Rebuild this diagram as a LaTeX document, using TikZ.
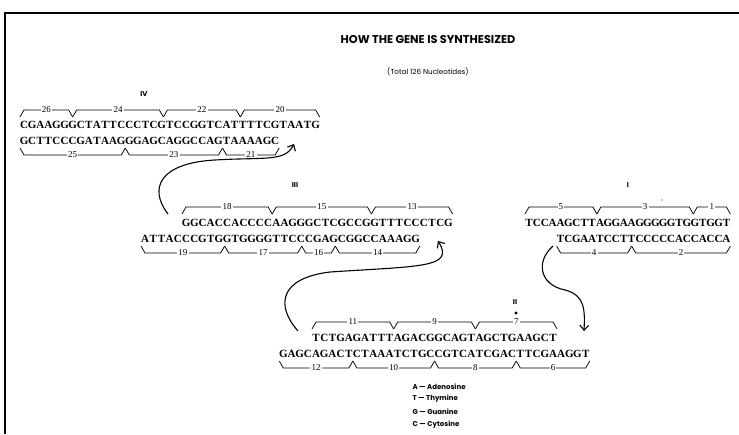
\documentclass[tikz,border=0pt]{standalone}
\usepackage{fontspec}
\setmainfont{Liberation Serif}
\newfontfamily\popfont{Poppins}
\usetikzlibrary{arrows.meta}

% one nucleotide strand: name, x of left edge, baseline y, pitch, sequence
\newcommand\dnastrand[5]{%
  \def\dnaname{#1}\def\dnay{#3}\def\dnapitch{#4}%
  \pgfmathsetmacro\dnax{#2+#4/2}\def\dnai{0}%
  \dnaloop#5\relax}
\def\dnaloop#1{\ifx#1\relax\else
  \pgfmathtruncatemacro\dnai{\dnai+1}%
  \node[nt] (\dnaname-\dnai) at (\dnax,\dnay) {#1};%
  \pgfmathsetmacro\dnax{\dnax+\dnapitch}%
  \expandafter\dnaloop\fi}
% brackets: x0, pitch, k1, k2, y of line, label
\newcommand\topbr[6]{%
  \pgfmathsetmacro\bxa{#1+#2*#3}\pgfmathsetmacro\bxb{#1+#2*#4}%
  \draw[brk] (\bxa,#5+7) -- (\bxa+4,#5) -- (\bxb-4,#5) -- (\bxb,#5+7);
  \node[lab] (n#6) at ({(\bxa+\bxb)/2},#5) {#6};}
\newcommand\botbr[6]{%
  \pgfmathsetmacro\bxa{#1+#2*#3}\pgfmathsetmacro\bxb{#1+#2*#4}%
  \draw[brk] (\bxa,#5-7) -- (\bxa+4,#5) -- (\bxb-4,#5) -- (\bxb,#5-7);
  \node[lab] (n#6) at ({(\bxa+\bxb)/2},#5) {#6};}

\begin{document}
\begin{tikzpicture}[x=1pt,y=-1pt,
  nt/.style={inner sep=0pt,anchor=base,font=\bfseries\fontsize{11}{12}\selectfont},
  lab/.style={fill=white,inner sep=1.2pt,font=\fontsize{9}{9}\selectfont},
  brk/.style={line width=0.75pt},
  conn/.style={line width=1.1pt,-{Straight Barb[length=5pt,width=9pt]}},
  sec/.style={font=\popfont\bfseries\fontsize{7}{7}\selectfont},
  leg/.style={anchor=west,font=\popfont\bfseries\fontsize{7}{7}\selectfont}]
\useasboundingbox (0,0) rectangle (739,434);
\fill[white] (0,0) rectangle (739,434);
% frame
\draw[line width=2.5pt] (5,434) -- (5,13) -- (739,13);

% titles
\node[font=\popfont\bfseries\fontsize{11.3}{12}\selectfont] (title) at (428,40) {HOW THE GENE IS SYNTHESIZED};
\node[font=\popfont\fontsize{7.2}{8}\selectfont] (subtitle) at (428,72) {(Total 126 Nucleotides)};

% ---- IV ----
\node[sec] (lIV) at (144,94) {IV};
\dnastrand{IVt}{20}{128}{8.1}{CGAAGGGCTATTCCCTCGTCCGGTCATTTTCGTAATG}
\dnastrand{IVb}{20}{144}{8.1}{GCTTCCCGATAAGGGAGCAGGCCAGTAAAAGC}
\topbr{20}{8.1}{0}{6.5}{110}{26}
\topbr{20}{8.1}{6.5}{17.7}{110}{24}
\topbr{20}{8.1}{17.7}{27.2}{110}{22}
\topbr{20}{8.1}{27.2}{37}{110}{20}
\botbr{20}{8.1}{0}{13}{155}{25}
\botbr{20}{8.1}{13}{25}{155}{23}
\botbr{20}{8.1}{25}{32}{155}{21}

% ---- III ----
\node[sec] (lIII) at (295,185) {III};
\dnastrand{IIIt}{182}{226}{8.2}{GGCACCACCCCAAGGGCTCGCCGGTTTCCCTCG}
\dnastrand{IIIb}{141}{242}{8.2}{ATTACCCGTGGTGGGGTTCCCGAGCGGCCAAAGG}
\topbr{182}{8.2}{0}{11}{207}{18}
\topbr{182}{8.2}{11}{23.1}{207}{15}
\topbr{182}{8.2}{23.1}{33}{207}{13}
\botbr{141}{8.2}{0}{10.2}{253}{19}
\botbr{141}{8.2}{10.2}{19.6}{253}{17}
\botbr{141}{8.2}{19.6}{23.7}{253}{16}
\botbr{141}{8.2}{23.7}{34}{253}{14}

% ---- I ----
\node[sec] (lI) at (628,185) {I};
\dnastrand{It}{525}{226}{7.9}{TCCAAGCTTAGGAAGGGGGTGGTGGT}
\dnastrand{Ib}{556.6}{242}{7.9}{TCGAATCCTTCCCCCACCACCA}
\topbr{525}{7.9}{0}{9.1}{207}{5}
\topbr{525}{7.9}{9.1}{21.3}{207}{3}
\topbr{525}{7.9}{21.3}{26}{207}{1}
\botbr{556.6}{7.9}{0}{9.5}{253}{4}
\botbr{556.6}{7.9}{9.5}{22}{253}{2}
\fill (662,200) circle (0.7pt);

% ---- II ----
\node[sec] (lII) at (515,302) {II};
\fill (516,313) circle (1.6pt);
\dnastrand{IIt}{312}{341}{8.17}{TCTGAGATTTAGACGGCAGTAGCTGAAGCT}
\dnastrand{IIb}{279.3}{357}{8.17}{GAGCAGACTCTAAATCTGCCGTCATCGACTTCGAAGGT}
\topbr{312}{8.17}{0}{10}{322}{11}
\topbr{312}{8.17}{10}{20}{322}{9}
\topbr{312}{8.17}{20}{30}{322}{7}
\botbr{279.3}{8.17}{0}{9}{368}{12}
\botbr{279.3}{8.17}{9}{19}{368}{10}
\botbr{279.3}{8.17}{19}{29}{368}{8}
\botbr{279.3}{8.17}{29}{38}{368}{6}

% ---- joining arrows ----
\coordinate (a1s) at (168,214);
\coordinate (a1m) at (215,160);
\coordinate (a1e) at (294,144);
\draw[conn] (a1s) .. controls (148,188) and (160,163) .. (a1m) .. controls (265,157) and (285,162) .. (a1e);
\coordinate (a2s) at (298,331);
\coordinate (a2m) at (330,272);
\coordinate (a2e) at (438,241);
\draw[conn] (a2s) .. controls (275,305) and (280,278) .. (a2m) .. controls (420,266) and (455,268) .. (a2e);
\coordinate (a3s) at (553,246);
\coordinate (a3m) at (565,290);
\coordinate (a3e) at (584,331);
\draw[conn] (a3s) .. controls (535,262) and (540,285) .. (a3m) .. controls (585,295) and (585,310) .. (a3e);

% ---- legend ----
\node[leg] (legA) at (409,387) {A — Adenosine};
\node[leg] (legT) at (409,399) {T — Thymine};
\node[leg] (legG) at (409,412) {G — Guanine};
\node[leg] (legC) at (409,425) {C — Cytosine};
\end{tikzpicture}
\end{document}
